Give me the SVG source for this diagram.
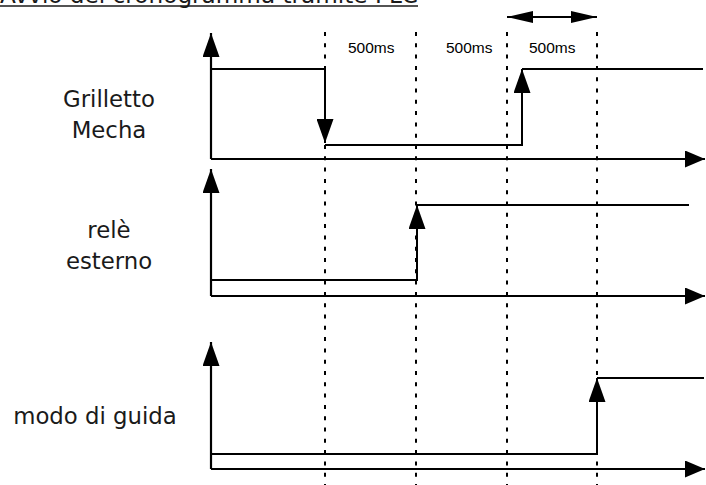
<svg xmlns="http://www.w3.org/2000/svg" width="706" height="485" viewBox="0 0 706 485">
<style>
.lbl{font-family:"DejaVu Sans",Verdana,sans-serif;font-size:22.8px;fill:#1a1a1a;text-anchor:middle}
.ms{font-family:"Liberation Sans",Arial,sans-serif;font-size:15.5px;fill:#000}
.ln{fill:none;stroke:#000;stroke-width:2}
.ax{fill:none;stroke:#000;stroke-width:2.2}
.dot{fill:none;stroke:#000;stroke-width:2;stroke-dasharray:4 7.3}
.arr{marker-end:url(#ah)}
.axr{marker-end:url(#axh)}
</style>
<defs>
<marker id="ah" markerUnits="userSpaceOnUse" viewBox="0 0 24 17" refX="24" refY="8.5" markerWidth="24" markerHeight="17" orient="auto">
<path d="M0,0 L24,8.5 L0,17 z" fill="#000"/>
</marker>
<marker id="axh" markerUnits="userSpaceOnUse" viewBox="0 0 20 17" refX="20" refY="8.5" markerWidth="20" markerHeight="17" orient="auto">
<path d="M0,0 L20,8.5 L0,17 z" fill="#000"/>
</marker>
<marker id="dh" markerUnits="userSpaceOnUse" viewBox="0 0 26 12" refX="26" refY="6" markerWidth="26" markerHeight="12" orient="auto-start-reverse">
<path d="M0,0 L26,6 L0,12 z" fill="#000"/>
</marker>
</defs>
<g id="title">
<text x="0" y="3" style="font-family:'DejaVu Sans',Verdana,sans-serif;font-size:23px;fill:#1a1a1a" textLength="418" lengthAdjust="spacingAndGlyphs">Avvio del cronogramma tramite PLC</text>
<line x1="0" y1="6" x2="418" y2="6" stroke="#1a1a1a" stroke-width="1.5"/>
</g>
<g id="grid">
<line class="dot" x1="325" y1="32" x2="325" y2="485"/>
<line class="dot" x1="416" y1="32" x2="416" y2="485"/>
<line class="dot" x1="507" y1="32" x2="507" y2="485"/>
<line class="dot" x1="597" y1="32" x2="597" y2="485"/>
</g>
<g id="interval">
<line x1="507" y1="17" x2="597" y2="17" stroke="#000" stroke-width="2" marker-start="url(#dh)" marker-end="url(#dh)"/>
<text class="ms" x="348" y="53">500ms</text>
<text class="ms" x="446" y="53">500ms</text>
<text class="ms" x="529" y="53">500ms</text>
</g>
<g id="label-grilletto">
<text class="lbl" x="109" y="107">Grilletto</text>
<text class="lbl" x="109" y="138">Mecha</text>
</g>
<g id="label-rele">
<text class="lbl" x="109" y="238">relè</text>
<text class="lbl" x="109" y="269">esterno</text>
</g>
<g id="label-modo">
<text class="lbl" x="95" y="424">modo di guida</text>
</g>
<g id="connectors">
<!-- panel 1 -->
<path class="ax arr" d="M211,159 V33"/>
<path class="ax axr" d="M211,159 H705"/>
<path class="ln arr" d="M211,69 H325 V143"/>
<path class="ln arr" d="M325,145 H522 V69"/>
<path class="ln" d="M522,69 H703"/>
<!-- panel 2 -->
<path class="ax arr" d="M211,296 V169"/>
<path class="ax axr" d="M211,296 H705"/>
<path class="ln arr" d="M211,280 H417 V205"/>
<path class="ln" d="M417,205 H689"/>
<!-- panel 3 -->
<path class="ax arr" d="M211,469 V342"/>
<path class="ax axr" d="M211,469 H705"/>
<path class="ln arr" d="M211,454 H597 V378"/>
<path class="ln" d="M597,378 H704"/>
</g>
</svg>
